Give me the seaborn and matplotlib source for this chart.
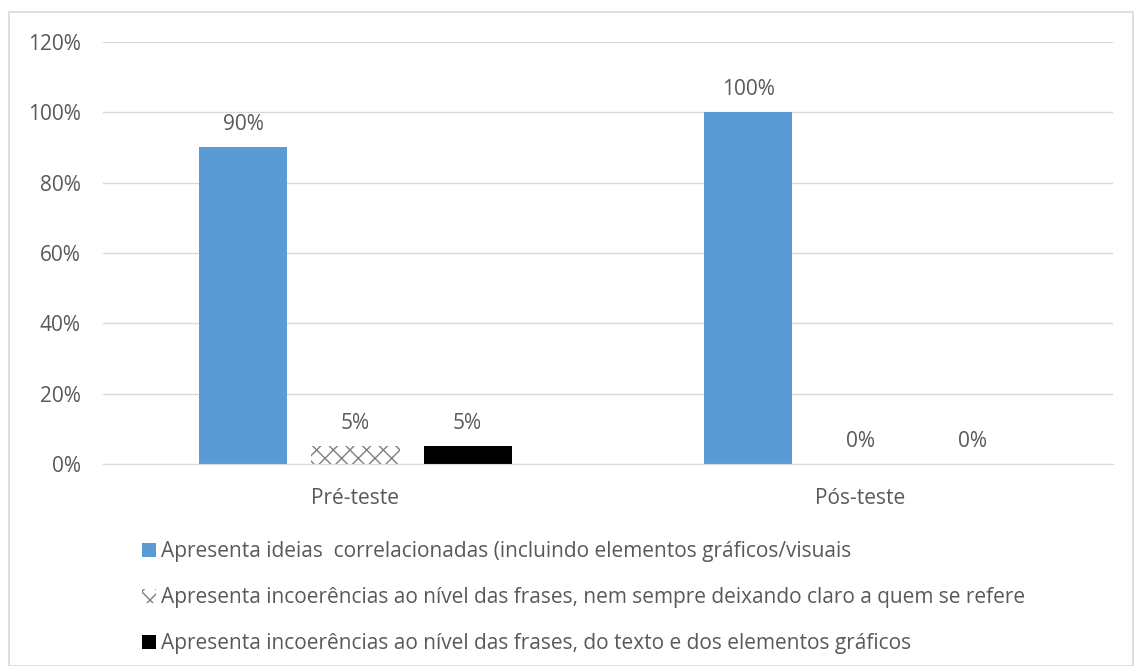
import pandas as pd
import numpy as np
import matplotlib.pyplot as plt
import seaborn as sns
from matplotlib.patches import Rectangle, Patch

# Data
phases = ["Pré-teste", "Pós-teste"]
series = [
    "Apresenta ideias  correlacionadas (incluindo elementos gráficos/visuais",
    "Apresenta incoerências ao nível das frases, nem sempre deixando claro a quem se refere",
    "Apresenta incoerências ao nível das frases, do texto e dos elementos gráficos",
]
pre_values = [90, 5, 5]
pos_values = [100, 0, 0]

colors = ["#5b9bd5", "#ffffff", "#000000"]
text_color = "#595959"

df = pd.DataFrame({
    "Fase": phases * 3,
    "Categoria": [s for s in series for _ in phases],
    "Valor": [v for pair in zip(pre_values, pos_values) for v in pair],
})

sns.set_style("white")
plt.rcParams["font.family"] = ["Open Sans", "DejaVu Sans"]

fig = plt.figure(figsize=(11.34, 6.66), dpi=100)
ax = fig.add_axes([0.0908, 0.3033, 0.8907, 0.6337])

sns.barplot(data=df, x="Fase", y="Valor", hue="Categoria", hue_order=series,
            order=phases, palette=colors, width=0.666, gap=0.214,
            saturation=1, ax=ax, legend=False)

# zigzag-ish hatch on the second series
for cont, s in zip(ax.containers, series):
    for bar in cont:
        bar.set_linewidth(0)
        if s == series[1]:
            bar.set_hatch("xx")
            bar.set_edgecolor("#7f7f7f")

for cont in ax.containers:
    ax.bar_label(cont, labels=[f"{v:.0f}%" for v in cont.datavalues],
                 padding=9, fontsize=15, color=text_color)

ax.set_ylim(0, 120)
ax.set_xlim(-0.5, 1.5)
ax.set_yticks(range(0, 121, 20))
ax.set_yticklabels([f"{t}%" for t in range(0, 121, 20)])
ax.yaxis.grid(True, color="#d9d9d9", linewidth=1)
ax.set_axisbelow(True)
ax.set_xlabel("")
ax.set_ylabel("")
ax.tick_params(axis="both", length=0, labelsize=15, labelcolor=text_color)
ax.tick_params(axis="y", pad=16)
ax.tick_params(axis="x", pad=17)
for side in ["left", "right", "top"]:
    ax.spines[side].set_visible(False)
ax.spines["bottom"].set_color("#d9d9d9")

# legend below, one entry per row
handles = [
    Patch(facecolor=colors[0], edgecolor="none"),
    Patch(facecolor="white", edgecolor="#7f7f7f", hatch="xx", linewidth=0),
    Patch(facecolor=colors[2], edgecolor="none"),
]
fig.legend(handles, series, loc="upper left", bbox_to_anchor=(0.118, 0.2),
           frameon=False, fontsize=15, labelcolor=text_color, ncol=1,
           handlelength=0.65, handleheight=0.65, handletextpad=0.25,
           labelspacing=1.2, borderaxespad=0)

# outer chart border
fig.patches.append(Rectangle((9 / 1134, 0), 1 - 10 / 1134, 1 - 12 / 666,
                             transform=fig.transFigure, fill=False,
                             edgecolor="#d9d9d9", linewidth=1.2))

fig.savefig("out.png", dpi=100)
